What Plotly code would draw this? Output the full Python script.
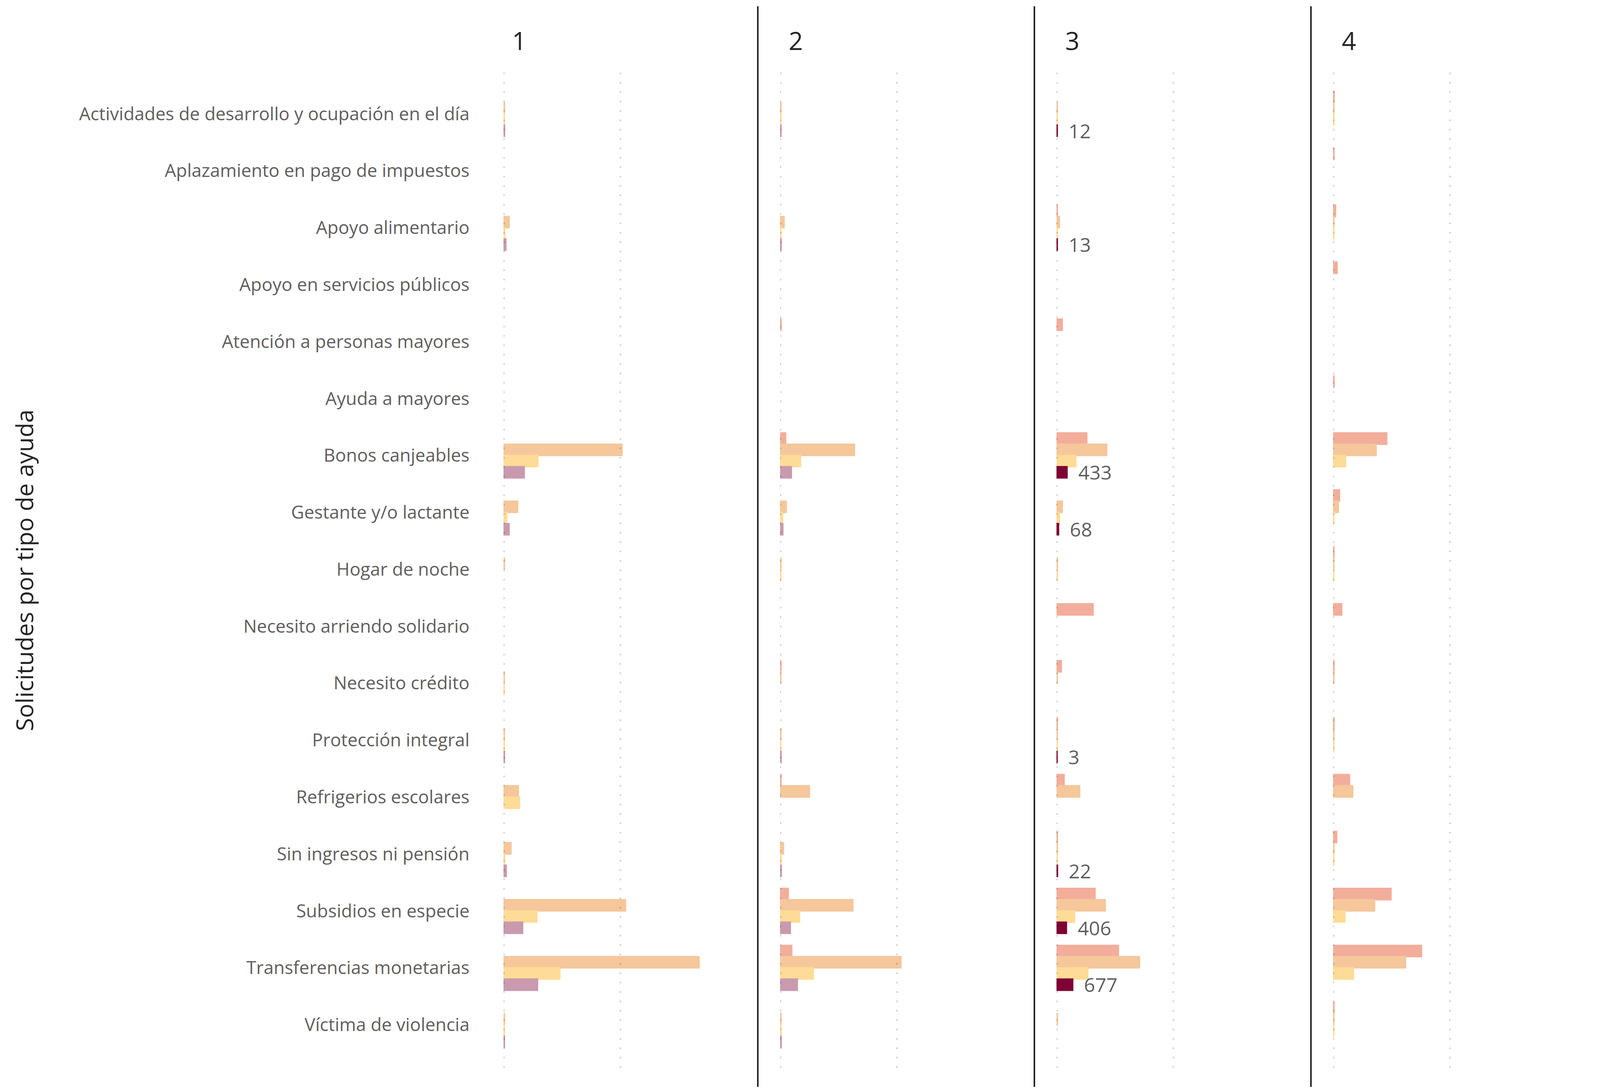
import plotly.graph_objects as go

# ---------------- data ----------------
categories = [
    "Actividades de desarrollo y ocupación en el día",
    "Aplazamiento en pago de impuestos",
    "Apoyo alimentario",
    "Apoyo en servicios públicos",
    "Atención a personas mayores",
    "Ayuda a mayores",
    "Bonos canjeables",
    "Gestante y/o lactante",
    "Hogar de noche",
    "Necesito arriendo solidario",
    "Necesito crédito",
    "Protección integral",
    "Refrigerios escolares",
    "Sin ingresos ni pensión",
    "Subsidios en especie",
    "Transferencias monetarias",
    "Víctima de violencia",
]

panel_titles = ["1", "2", "3", "4"]
series_names = ["Serie A", "Serie B", "Serie C", "Serie D"]
grid_vals = [0, 5000]
N = None

# panel 1
p1_a = [N, N, N, N, N, N, N, N, N, N, N, N, N, N, N, N, N]
p1_b = [20, N, 217, N, N, N, 5070, 585, 18, N, 12, 15, 615, 300, 5220, 8378, 20]
p1_c = [15, N, 30, N, N, N, 1455, 112, N, N, 10, 12, 667, 25, 1410, 2400, 14]
p1_d = [25, N, 80, N, N, N, 870, 217, N, N, N, 20, N, 97, 802, 1440, 18]
# panel 2
p2_a = [N, N, N, N, 25, N, 217, N, N, N, 15, N, 20, N, 330, 480, N]
p2_b = [18, N, 150, N, N, N, 3172, 247, 15, N, 12, 18, 1237, 127, 3105, 5167, 20]
p2_c = [12, N, 20, N, N, N, 855, 82, 12, N, N, 12, N, 25, 817, 1410, 15]
p2_d = [20, N, 25, N, N, N, 465, 97, N, N, N, 22, N, 30, 420, 720, 25]
# panel 3
p3_a = [N, N, 15, N, 225, N, 1282, N, N, 1552, 187, 18, 307, 20, 1635, 2640, N]
p3_b = [18, N, 105, N, N, N, 2137, 225, 20, N, 15, 15, 975, 18, 2070, 3547, 20]
p3_c = [12, N, 20, N, N, N, 810, 105, 15, N, N, 12, N, 15, 757, 1327, N]
p3_d = [12, N, 13, N, N, N, 433, 68, N, N, N, 3, N, 22, 406, 677, N]
# panel 4
p4_a = [25, 20, 88, 152, N, 22, 2285, 256, 18, 351, 20, 18, 687, 136, 2469, 3779, 20]
p4_b = [18, N, 20, N, N, N, 1830, 208, 15, N, 15, 15, 823, 20, 1766, 3092, 15]
p4_c = [15, N, 15, N, N, N, 519, 20, 12, N, N, 12, N, 15, 487, 855, 12]
p4_d = [N, N, N, N, N, N, N, N, N, N, N, N, N, N, N, N, N]

panels = [
    [p1_a, p1_b, p1_c, p1_d],
    [p2_a, p2_b, p2_c, p2_d],
    [p3_a, p3_b, p3_c, p3_d],
    [p4_a, p4_b, p4_c, p4_d],
]
highlight_panel = 2  # panel "3": series D solid with data labels

# ---------------- styling ----------------
OFF = 8                          # page body margin
W, H = 4097 - 2 * OFF, 2791 - 2 * OFF
FONT = "Segoe UI, Open Sans, sans-serif"
LABEL_GRAY = "#605E5C"
DARK = "#252423"

faded = ["#F2AE9B", "#F5C79B", "#FEDC97", "#C99AAE"]
solid_d = "#7F0034"

ppu = 298.0 / 5000.0            # pixels per unit
x_min, x_max = -20, 10300
panel_w = (x_max - x_min) * ppu
zeros_px = [1290.2 - OFF, 1998.2 - OFF, 2705.8 - OFF, 3413.8 - OFF]
dividers_px = [1940 - OFF, 2648 - OFF, 3356 - OFF]
plot_top, plot_bot = 186 - OFF, 2748 - OFF
cat_first, cat_last = 291.5 - OFF, 2624 - OFF

fig = go.Figure()

for pi, series in enumerate(panels):
    xa = "x" if pi == 0 else f"x{pi + 1}"
    for si, vals in enumerate(series):
        color = faded[si]
        kw = {}
        if pi == highlight_panel and si == 3:
            color = solid_d
            kw = dict(
                text=["\u00a0\u00a0" + str(v) if v is not None else "" for v in vals],
                textposition="outside",
                constraintext="none",
                cliponaxis=False,
                textfont=dict(family=FONT, size=50, color=LABEL_GRAY),
            )
        fig.add_trace(go.Bar(
            x=vals,
            y=categories,
            orientation="h",
            name=series_names[si],
            marker=dict(color=color, line=dict(color=color, width=3.5)),
            xaxis=xa,
            yaxis="y",
            showlegend=False,
            **kw,
        ))

layout = dict(
    width=W,
    height=H,
    margin=dict(l=0, r=0, t=0, b=0),
    paper_bgcolor="white",
    plot_bgcolor="white",
    barmode="group",
    bargap=0.21,
    bargroupgap=0,
    font=dict(family=FONT, color=LABEL_GRAY),
    showlegend=False,
)

for pi in range(4):
    d0 = (zeros_px[pi] + x_min * ppu) / W
    d1 = d0 + panel_w / W
    key = "xaxis" if pi == 0 else f"xaxis{pi + 1}"
    layout[key] = dict(
        domain=[d0, d1],
        range=[x_min, x_max],
        anchor="y",
        tickvals=grid_vals,
        showticklabels=False,
        ticks="",
        showgrid=False,
        zeroline=False,
        showline=False,
        fixedrange=True,
    )

n = len(categories)
sp = (cat_last - cat_first) / (n - 1)
y_top_val = -(cat_first - plot_top) / sp
y_bot_val = (n - 1) + (plot_bot - cat_last) / sp

layout["yaxis"] = dict(
    domain=[1 - plot_bot / H, 1 - plot_top / H],
    type="category",
    categoryorder="array",
    categoryarray=categories,
    range=[y_bot_val, y_top_val],
    anchor="x",
    showgrid=False,
    zeroline=False,
    showline=False,
    ticks="",
    ticklabelstandoff=86,
    tickfont=dict(family=FONT, size=46, color=LABEL_GRAY),
    automargin=False,
)

shapes = []
# dotted grid lines drawn above the bars (as in the reference)
for pi in range(4):
    xr = "x" if pi == 0 else f"x{pi + 1}"
    for gv in grid_vals:
        shapes.append(dict(
            type="line", xref=xr, yref="y domain",
            x0=gv, x1=gv, y0=1, y1=0, layer="above",
            line=dict(color="rgba(0,0,0,0.21)", width=3.5, dash="4px,20px"),
        ))
# panel dividers
for dx in dividers_px:
    shapes.append(dict(
        type="line", xref="paper", yref="paper",
        x0=dx / W, x1=dx / W, y0=0, y1=1 - (16 - OFF) / H,
        line=dict(color=DARK, width=4),
    ))
layout["shapes"] = shapes

annotations = []
for pi, t in enumerate(panel_titles):
    annotations.append(dict(
        text=t, xref="paper", yref="paper",
        x=(zeros_px[pi] + 19) / W, y=1 - (104 - OFF) / H,
        xanchor="left", yanchor="middle", showarrow=False,
        font=dict(family=FONT, size=64, color=DARK),
    ))
annotations.append(dict(
    text="Solicitudes por tipo de ayuda", xref="paper", yref="paper",
    x=(61 - OFF) / W, y=1 - (1460 - OFF) / H, textangle=-90,
    xanchor="center", yanchor="middle", showarrow=False,
    font=dict(family=FONT, size=61, color=DARK),
))
layout["annotations"] = annotations

fig.update_layout(**layout)
fig.write_html("out.html")
